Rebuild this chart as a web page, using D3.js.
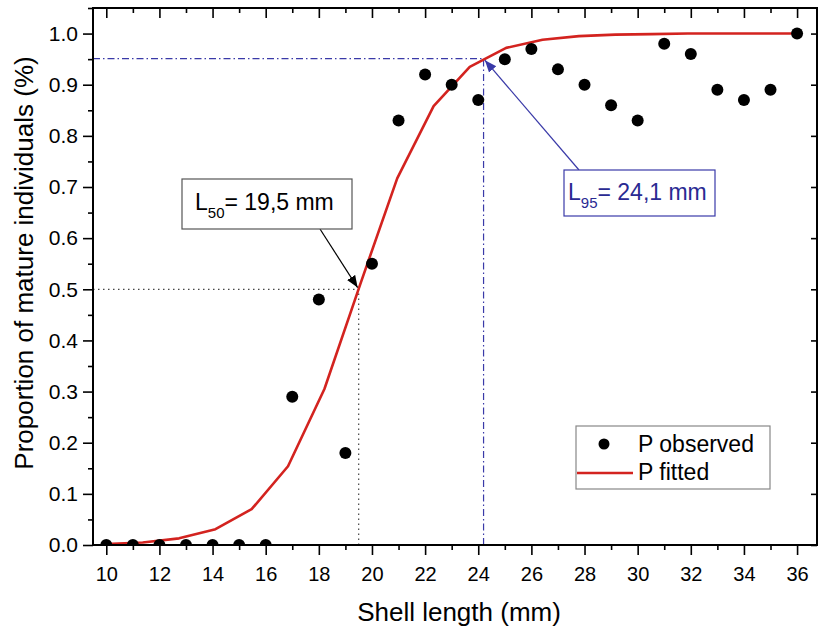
<!DOCTYPE html>
<html>
<head>
<meta charset="utf-8">
<script src="https://cdn.jsdelivr.net/npm/d3@7"></script>
<style>
  body { margin: 0; background: #fff; }
  svg { font-family: "Liberation Sans", Arial, sans-serif; }
</style>
</head>
<body>
<svg id="chart" width="818" height="630"></svg>
<script>
// observed proportions per 1 mm class
var lengths  = [10,11,12,13,14,15,16,17,18,19,20,21,22,23,24,25,26,27,28,29,30,31,32,33,34,35,36];
var observed = [0,0,0,0,0,0,0,0.29,0.48,0.18,0.55,0.83,0.92,0.90,0.87,0.95,0.97,0.93,0.90,0.86,0.83,0.98,0.96,0.89,0.87,0.89,1.0];
// fitted curve
var fitX = [10,11.37,12.74,14.11,15.47,16.84,18.21,19.58,20.95,22.32,23.68,25.05,26.42,27.79,29.16,30.53,31.89,33.26,34.63,36];
var fitY = [0.002,0.005,0.013,0.031,0.070,0.154,0.305,0.513,0.717,0.858,0.935,0.972,0.988,0.995,0.998,0.999,1.0,1.0,1.0,1.0];
// L50 / L95 markers
var markLen  = [19.5, 24.2];
var markProp = [0.5, 0.951];
var markText = ["19,5 mm", "24,1 mm"];
var markSub  = ["50", "95"];
var legendLabels = ["P observed", "P fitted"];

var mLeft = 93, mRight = 817, mTop = 8, mBottom = 545;
var svg = d3.select("#chart");

var xScale = d3.scaleLinear().domain([9.5, 36.75]).range([mLeft, mRight]);
var yScale = d3.scaleLinear().domain([0, 1.05]).range([mBottom, mTop]);

var red = "#d3231f", blue = "#3a3aa8";

// clip for the marks
var defs = svg.append("defs");
defs.append("clipPath").attr("id", "plotclip")
  .append("rect").attr("x", mLeft).attr("y", mTop)
  .attr("width", mRight - mLeft).attr("height", mBottom - mTop);

// guide lines
var mk = svg.append("g");
// L50 dotted
mk.append("path")
  .attr("d", d3.line()([[mLeft, yScale(markProp[0])], [xScale(markLen[0]), yScale(markProp[0])], [xScale(markLen[0]), mBottom]]))
  .attr("fill", "none").attr("stroke", "#444").attr("stroke-width", 1.2)
  .attr("stroke-dasharray", "1.5,3.5");
// L95 dash-dot
mk.append("path")
  .attr("d", d3.line()([[mLeft, yScale(markProp[1])], [xScale(markLen[1]), yScale(markProp[1])], [xScale(markLen[1]), mBottom]]))
  .attr("fill", "none").attr("stroke", blue).attr("stroke-width", 1.2)
  .attr("stroke-dasharray", "7,3,1.5,3");

// fitted line
var linemaker = d3.line()
  .x(function(d, i){ return xScale(fitX[i]); })
  .y(function(d){ return yScale(d); });
svg.append("path")
  .attr("d", linemaker(fitY))
  .attr("clip-path", "url(#plotclip)")
  .attr("fill", "none").attr("stroke", red).attr("stroke-width", 2.6)
  .attr("stroke-linejoin", "round");

// observed points
svg.append("g").attr("clip-path", "url(#plotclip)")
  .selectAll("circle").data(observed).enter().append("circle")
  .attr("cx", function(d, i){ return xScale(lengths[i]); })
  .attr("cy", function(d){ return yScale(d); })
  .attr("r", 6).attr("fill", "#000");

// axes
function styleAxis(g){
  g.select(".domain").remove();
  g.attr("font-size", 20).attr("font-family", "Liberation Sans, Arial, sans-serif");
  g.selectAll(".tick line").attr("stroke", "#000").attr("stroke-width", 1.6);
  g.selectAll("text").attr("fill", "#000");
}
var xMajor = d3.range(10, 37, 2), xMinor = d3.range(11, 37, 2);
var yMajor = d3.range(0, 11).map(function(d){ return d / 10; });
var yMinor = d3.range(0, 11).map(function(d){ return d / 10 + 0.05; });

svg.append("g").attr("transform", "translate(0," + mBottom + ")")
  .call(d3.axisBottom(xScale).tickValues(xMajor).tickSize(10).tickPadding(12).tickFormat(d3.format("d")))
  .call(styleAxis);
svg.append("g").attr("transform", "translate(0," + mBottom + ")")
  .call(d3.axisBottom(xScale).tickValues(xMinor).tickSize(5).tickFormat(""))
  .call(styleAxis);
svg.append("g").attr("transform", "translate(0," + mTop + ")")
  .call(d3.axisBottom(xScale).tickValues(xMajor).tickSize(10).tickFormat(""))
  .call(styleAxis);
svg.append("g").attr("transform", "translate(0," + mTop + ")")
  .call(d3.axisBottom(xScale).tickValues(xMinor).tickSize(5).tickFormat(""))
  .call(styleAxis);

svg.append("g").attr("transform", "translate(" + mLeft + ",0)")
  .call(d3.axisLeft(yScale).tickValues(yMajor).tickSize(10).tickPadding(5).tickFormat(d3.format(".1f")))
  .call(styleAxis)
  .attr("font-size", 21);
svg.append("g").attr("transform", "translate(" + mLeft + ",0)")
  .call(d3.axisLeft(yScale).tickValues(yMinor).tickSize(5).tickFormat(""))
  .call(styleAxis);
svg.append("g").attr("transform", "translate(" + mRight + ",0)")
  .call(d3.axisLeft(yScale).tickValues(yMajor).tickSize(6).tickFormat(""))
  .call(styleAxis);

// frame
svg.append("rect").attr("x", mLeft).attr("y", mTop)
  .attr("width", mRight - mLeft).attr("height", mBottom - mTop)
  .attr("fill", "none").attr("stroke", "#000").attr("stroke-width", 2);

// axis titles
svg.append("text").attr("x", 459).attr("y", 621).attr("text-anchor", "middle")
  .attr("font-size", 26).text("Shell length (mm)");
svg.append("text").attr("transform", "translate(33,263) rotate(-90)")
  .attr("text-anchor", "middle").attr("font-size", 26)
  .text("Proportion of mature individuals (%)");

// arrowheads
[["arrBlack", "#000"], ["arrBlue", blue]].forEach(function(a){
  defs.append("marker").attr("id", a[0]).attr("viewBox", "0 0 10 10")
    .attr("refX", 10).attr("refY", 5).attr("markerWidth", 12).attr("markerHeight", 12)
    .attr("markerUnits", "userSpaceOnUse").attr("orient", "auto")
    .append("path").attr("d", "M0,1 L10,5 L0,9 Z").attr("fill", a[1]);
});

// annotation boxes
var boxes = [
  {x: 182, y: 179, w: 170, h: 50, color: "#000", stroke: "#555", ax: 320, ay: 229, marker: "arrBlack"},
  {x: 564, y: 170, w: 151, h: 46, color: "#2a2a92", stroke: blue, ax: 579, ay: 170, marker: "arrBlue"}
];
boxes.forEach(function(b, i){
  var tx = xScale(markLen[i]), ty = yScale(markProp[i]);
  var dx = tx - b.ax, dy = ty - b.ay, dl = Math.sqrt(dx*dx + dy*dy);
  svg.append("line").attr("x1", b.ax).attr("y1", b.ay)
    .attr("x2", tx - dx / dl * 2).attr("y2", ty - dy / dl * 2)
    .attr("stroke", i ? blue : "#000").attr("stroke-width", 1.2)
    .attr("marker-end", "url(#" + b.marker + ")");
  svg.append("rect").attr("x", b.x).attr("y", b.y).attr("width", b.w).attr("height", b.h)
    .attr("fill", "#fff").attr("stroke", b.stroke).attr("stroke-width", 1.2);
  var t = svg.append("text").attr("x", b.x + (i ? 4 : 13)).attr("y", b.y + (i ? 30 : 31))
    .attr("font-size", 23).attr("fill", b.color);
  t.append("tspan").text("L");
  t.append("tspan").attr("dy", 8).attr("font-size", 15).text(markSub[i]);
  t.append("tspan").attr("dy", -8).text("= " + markText[i]);
});

// legend
var lg = svg.append("g");
lg.append("rect").attr("x", 576).attr("y", 426).attr("width", 194).attr("height", 63)
  .attr("fill", "#fff").attr("stroke", "#888").attr("stroke-width", 1.2);
lg.append("circle").attr("cx", 604).attr("cy", 444).attr("r", 5.5).attr("fill", "#000");
lg.append("line").attr("x1", 577).attr("x2", 633).attr("y1", 473).attr("y2", 473)
  .attr("stroke", red).attr("stroke-width", 2.6);
lg.selectAll("text.lab").data(legendLabels).enter().append("text").attr("class", "lab")
  .attr("x", 638).attr("y", function(d, i){ return i ? 480 : 452; })
  .attr("font-size", 23).text(function(d){ return d; });
</script>
</body>
</html>
